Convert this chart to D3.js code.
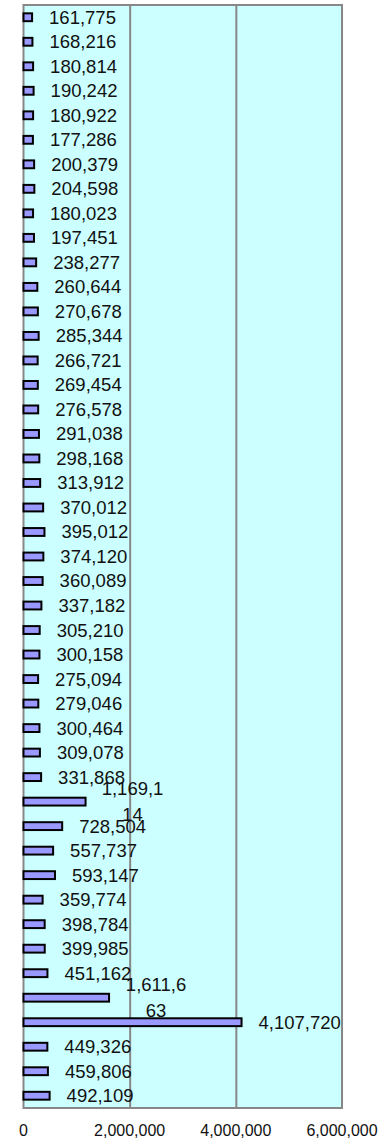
<!DOCTYPE html>
<html>
<head>
<meta charset="utf-8">
<script src="https://cdn.jsdelivr.net/npm/d3@7"></script>
<style>
  body { margin: 0; background: #ffffff; }
</style>
</head>
<body>
<div id="chart"></div>
<script>
var width = 387,
    height = 1141;

// values, top bar first
var values = [161775, 168216, 180814, 190242, 180922, 177286, 200379, 204598, 180023, 197451,
    238277, 260644, 270678, 285344, 266721, 269454, 276578, 291038, 298168, 313912,
    370012, 395012, 374120, 360089, 337182, 305210, 300158, 275094, 279046, 300464,
    309078, 331868, 1169114, 728504, 557737, 593147, 359774, 398784, 399985, 451162,
    1611663, 4107720, 449326, 459806, 492109];
// labels that wrap onto two lines in the original
var wrapped = [1169114, 1611663];
var tickValues = [0, 2000000, 4000000, 6000000];

var plotLeft = 23.5, plotRight = 342, plotTop = 5, plotBottom = 1108;

var svg = d3.select("#chart").append("svg")
    .attr("width", width)
    .attr("height", height)
    .style("font-family", "'Liberation Sans', Arial, sans-serif")

var x = d3.scaleLinear().domain([0, 6000000]).range([plotLeft, plotRight])
var y = d3.scaleBand().domain(d3.range(values.length)).range([plotTop, plotBottom])
    .paddingInner(0.68).paddingOuter(0.34)
var fmt = d3.format(",")

// plot background
svg.append("rect")
    .attr("x", plotLeft).attr("y", plotTop)
    .attr("width", plotRight - plotLeft).attr("height", plotBottom - plotTop)
    .attr("fill", "#ccffff")

// gridlines
svg.append("g")
    .attr("transform", "translate(0," + plotBottom + ")")
    .call(d3.axisBottom(x).tickValues(tickValues.slice(1, -1)).tickSize(-(plotBottom - plotTop)).tickFormat(""))
    .call(function(g) { g.select(".domain").remove() })
    .selectAll("line")
    .attr("stroke", "#878787")
    .attr("stroke-width", 2)

// border
svg.append("rect")
    .attr("x", plotLeft).attr("y", plotTop)
    .attr("width", plotRight - plotLeft).attr("height", plotBottom - plotTop)
    .attr("fill", "none")
    .attr("stroke", "#878787")
    .attr("stroke-width", 2)

// bars
svg.selectAll(".bar")
    .data(values)
    .enter()
    .append("rect")
    .attr("class", "bar")
    .attr("x", x(0))
    .attr("y", function(d, i) { return y(i) })
    .attr("width", function(d) { return x(d) - x(0) })
    .attr("height", y.bandwidth())
    .attr("fill", "#9999ff")
    .attr("stroke", "#000000")
    .attr("stroke-width", 2)

// value labels
svg.selectAll(".lbl")
    .data(values)
    .enter()
    .append("text")
    .attr("class", "lbl")
    .style("font-size", "18.5px")
    .style("fill", "#111")
    .each(function(d, i) {
        var t = d3.select(this)
        var cy = y(i) + y.bandwidth() / 2
        var s = fmt(d)
        if (wrapped.indexOf(d) >= 0) {
            t.attr("text-anchor", "middle")
            var cx = x(d) + 47
            t.append("tspan").attr("x", cx).attr("y", cy - 13).attr("dy", "0.35em").text(s.slice(0, 7))
            t.append("tspan").attr("x", cx).attr("y", cy + 13).attr("dy", "0.35em").text(s.slice(7))
        } else {
            t.attr("x", x(d) + 17)
                .attr("y", cy)
                .attr("dy", "0.35em")
                .text(s)
        }
    })

// x axis tick labels
svg.selectAll(".tick-label")
    .data(tickValues)
    .enter()
    .append("text")
    .attr("class", "tick-label")
    .attr("x", function(d) { return x(d) })
    .attr("y", 1136)
    .attr("text-anchor", "middle")
    .style("font-size", "16px")
    .style("fill", "#111")
    .text(function(d) { return fmt(d) })
</script>
</body>
</html>
